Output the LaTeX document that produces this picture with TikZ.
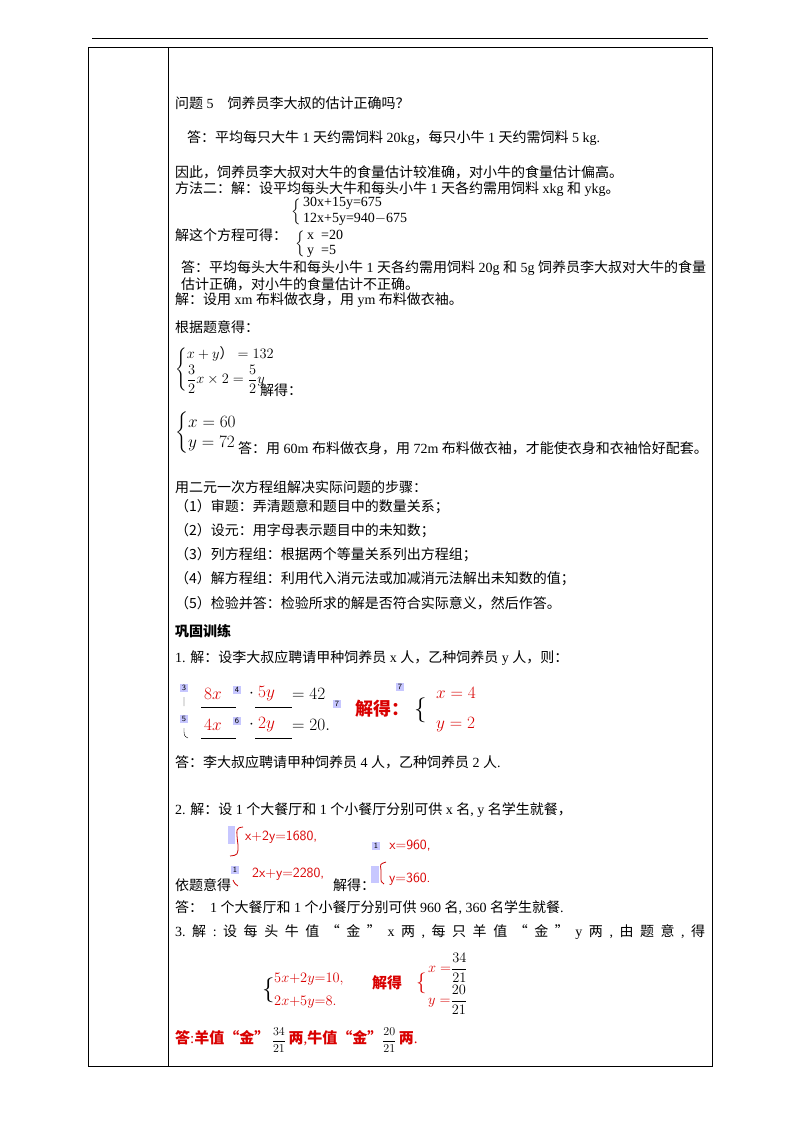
\documentclass[tikz,border=0pt]{standalone}
\usepackage{amsmath}
\usepackage{fontspec}
\setmainfont{Liberation Serif}
\newfontfamily\cjk{Noto Sans CJK SC}
\newcommand{\cjkb}{\cjk\bfseries}
\begin{document}
\begin{tikzpicture}[x=1pt,y=-1pt,
  t/.style={anchor=west,inner sep=0pt,font=\fontsize{14}{16}\selectfont},
  rt/.style={t,text=red!85!black},
  hb/.style={fill=blue!22,inner sep=1.5pt,font=\fontsize{8}{9}\selectfont\sffamily}]
\useasboundingbox (0,0) rectangle (800,1132);
\fill[white] (0,0) rectangle (800,1132);
\draw[line width=0.8pt] (92,38) -- (708,38);
\draw[line width=0.6pt] (88,47) rectangle (712,1066);
\draw[line width=0.6pt] (168,47) -- (168,1066);
\node[t] (a1) at (175,103) {{\cjk 问题} 5\quad{\cjk 饲养员李大叔的估计正确吗？}};
\node[t] (a2) at (187,138) {{\cjk 答：平均每只大牛} 1 {\cjk 天约需饲料} 20kg{\cjk ，每只小牛} 1 {\cjk 天约需饲料} 5 kg.};
\node[t] (a3) at (175,172) {\cjk 因此，饲养员李大叔对大牛的食量估计较准确，对小牛的食量估计偏高。};
\node[t] (a4) at (175,189) {{\cjk 方法二：解：设平均每头大牛和每头小牛} 1 {\cjk 天各约需用饲料} xkg {\cjk 和} ykg{\cjk 。}};
\node[t] (b1) at (291,212) {$\left\{\vphantom{\rule{0pt}{15pt}}\right.$};
\node[t] (e1) at (303,203) {30x+15y=675};
\node[t] (e2) at (303,219) {12x+5y=940$-$675};
\node[t] (a5) at (175,235) {\cjk 解这个方程可得：};
\node[t] (b2) at (295,244) {$\left\{\vphantom{\rule{0pt}{16pt}}\right.$};
\node[t] (e3) at (307,235) {x\ \ =20};
\node[t] (e4) at (307,251) {y\ \ =5};
\node[t] (a6) at (181,268) {{\cjk 答：平均每头大牛和每头小牛} 1 {\cjk 天各约需用饲料} 20g {\cjk 和} 5g {\cjk 饲养员李大叔对大牛的食量}};
\node[t] (a7) at (181,284) {\cjk 估计正确，对小牛的食量估计不正确。};
\node[t] (a8) at (175,300) {{\cjk 解：设用} xm {\cjk 布料做衣身，用} ym {\cjk 布料做衣袖。}};
\node[t] (a9) at (175,327) {\cjk 根据题意得：};
\node[t] (m1) at (175,370) {$\left\{\begin{array}{@{}l@{}}x+y\text{\cjk ）}=132\\[2pt] \dfrac32x\times2=\dfrac52y\end{array}\right.$};
\node[t] (a10) at (260,390) {\cjk 解得：};
\node[t,font=\fontsize{19}{20}\selectfont] (m2) at (175,433) {$\left\{\begin{array}{@{}l@{}}x=60\\ y=72\end{array}\right.$};
\node[t] (a11) at (238,448) {{\cjk 答：用} 60m {\cjk 布料做衣身，用} 72m {\cjk 布料做衣袖，才能使衣身和衣袖恰好配套。}};
\node[t] (s0) at (175,487) {\cjk 用二元一次方程组解决实际问题的步骤：};
\node[t] (s1) at (175,507) {\cjk （1）审题：弄清题意和题目中的数量关系；};
\node[t] (s2) at (175,531) {\cjk （2）设元：用字母表示题目中的未知数；};
\node[t] (s3) at (175,555) {\cjk （3）列方程组：根据两个等量关系列出方程组；};
\node[t] (s4) at (175,579) {\cjk （4）解方程组：利用代入消元法或加减消元法解出未知数的值；};
\node[t] (s5) at (175,603) {\cjk （5）检验并答：检验所求的解是否符合实际意义，然后作答。};
\node[t] (g0) at (175,631) {\cjkb 巩固训练};
\node[t] (g1) at (175,658) {1. {\cjk 解：设李大叔应聘请甲种饲养员} x {\cjk 人，乙种饲养员} y {\cjk 人，则：}};
\node[hb] (h3) at (184,688) {3};
\node[hb] (h5) at (184,719) {5};
\draw (184,697) -- (184,706) (184,728) .. controls (184,736) .. (188,738);
\node[rt,font=\fontsize{18}{20}\selectfont] (p1) at (204,694) {$8x$};
\node[hb] (h4) at (237,690) {4};
\node[t,font=\fontsize{18}{20}\selectfont] (p2) at (249,694) {$\cdot$};
\node[rt,font=\fontsize{18}{20}\selectfont] (p3) at (258,694) {$5y$};
\node[t,font=\fontsize{18}{20}\selectfont] (p4) at (292,694) {$=42$};
\node[hb] (h7a) at (337,704) {7};
\draw (201,707) -- (236,707) (255,707) -- (292,707);
\node[rt,font=\fontsize{18}{20}\selectfont] (q1) at (204,725) {$4x$};
\node[hb] (h6) at (237,721) {6};
\node[t,font=\fontsize{18}{20}\selectfont] (q2) at (249,725) {$\cdot$};
\node[rt,font=\fontsize{18}{20}\selectfont] (q3) at (258,725) {$2y$};
\node[t,font=\fontsize{18}{20}\selectfont] (q4) at (292,725) {$=20.$};
\draw (201,738) -- (236,738) (255,738) -- (292,738);
\node[rt,font=\fontsize{18}{20}\cjkb\selectfont] (jd) at (355,709) {解得：};
\node[hb] (h7b) at (400,687) {7};
\node[t,font=\fontsize{26}{28}\selectfont] (br1) at (414,710) {$\{$};
\node[rt,font=\fontsize{18}{20}\selectfont] (r1) at (436,693) {$x=4$};
\node[rt,font=\fontsize{18}{20}\selectfont] (r2) at (436,725) {$y=2$};
\node[t] (g2) at (175,762) {{\cjk 答：李大叔应聘请甲种饲养员} 4 {\cjk 人，乙种饲养员} 2 {\cjk 人}.};
\node[t] (k1) at (175,810) {2. {\cjk 解：设} 1 {\cjk 个大餐厅和} 1 {\cjk 个小餐厅分别可供} x {\cjk 名}, y {\cjk 名学生就餐，}};
\fill[blue!22] (228,826) rectangle (235,844);
\draw[red!80!black,thick] (243,827) .. controls (236,828) .. (238,845) .. controls (238,855) .. (230,856);
\node[hb] (k1b) at (235,870) {1};
\draw[red!80!black,thick] (233,880) .. controls (235,884) .. (238,886);
\node[rt,font=\fontsize{14}{16}\sffamily\selectfont] (k2) at (245,837) {x+2y=1680,};
\node[rt,font=\fontsize{14}{16}\sffamily\selectfont] (k3) at (252,874) {2x+y=2280,};
\node[t] (k4) at (175,885) {\cjk 依题意得};
\node[t] (k5) at (333,885) {\cjk 解得：};
\node[hb] (k6) at (376,846) {1};
\fill[blue!22] (371,866) rectangle (379,883);
\draw[red!80!black,thick] (386,862) .. controls (380,864) .. (381,870) -- (381,877) .. controls (381,882) .. (384,884);
\node[rt,font=\fontsize{14}{16}\sffamily\selectfont] (k7) at (380,846) {\ \ x=960,};
\node[rt,font=\fontsize{14}{16}\sffamily\selectfont] (k8) at (389,879) {y=360.};
\node[t] (k9) at (175,908) {{\cjk 答：}\ \ 1 {\cjk 个大餐厅和} 1 {\cjk 个小餐厅分别可供} 960 {\cjk 名}, 360 {\cjk 名学生就餐}.};
\node[t,text width=530pt,align=justify] (n1) at (175,932) {3.\hfill{\cjk 解}\hfill:\hfill{\cjk 设}\hfill{\cjk 每}\hfill{\cjk 头}\hfill{\cjk 牛}\hfill{\cjk 值}\hfill{\cjk “}\hfill{\cjk 金}\hfill{\cjk ”}\hfill x\hfill{\cjk 两}\hfill,\hfill{\cjk 每}\hfill{\cjk 只}\hfill{\cjk 羊}\hfill{\cjk 值}\hfill{\cjk “}\hfill{\cjk 金}\hfill{\cjk ”}\hfill y\hfill{\cjk 两}\hfill,\hfill{\cjk 由}\hfill{\cjk 题}\hfill{\cjk 意}\hfill,\hfill{\cjk 得}};
\node[t,font=\fontsize{24}{26}\selectfont] (nb) at (262,990) {$\{$};
\node[rt] (n2) at (274,979) {$5x{+}2y{=}10,$};
\node[rt] (n3) at (274,1002) {$2x{+}5y{=}8.$};
\node[rt,font=\fontsize{15}{17}\cjkb\selectfont] (n4) at (372,983) {解得};
\node[t,font=\fontsize{20}{22}\selectfont,text=red!85!black] (n5) at (416,983) {$\{$};
\node[t] (n6) at (428,968) {$\textcolor{red!85!black}{x=}\dfrac{34}{21}$};
\node[t] (n9) at (428,1000) {$\textcolor{red!85!black}{y=}\dfrac{20}{21}$};
\node[t,font=\fontsize{15}{17}\selectfont,text=red!85!black] (z1) at (175,1040) {{\cjkb 答}:{\cjkb 羊值“金”}\,{\color{black}\fontsize{13}{14}\selectfont$\dfrac{34}{21}$}\,{\cjkb 两},{\cjkb 牛值“金”}{\color{black}\fontsize{13}{14}\selectfont$\dfrac{20}{21}$}\,{\cjkb 两}.};
\end{tikzpicture}
\end{document}
